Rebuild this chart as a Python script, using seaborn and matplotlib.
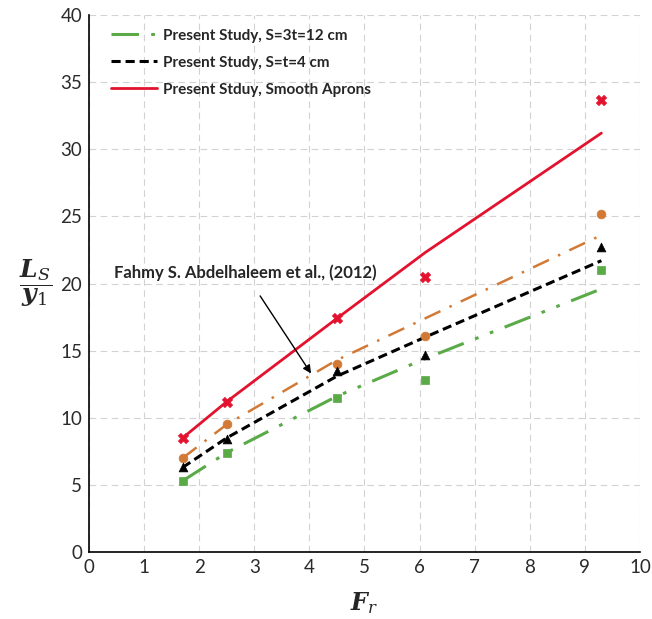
import numpy as np
import pandas as pd
import matplotlib
matplotlib.use("Agg")
import matplotlib.pyplot as plt
import seaborn as sns

# ---- data ----
fr = [1.7, 2.5, 4.5, 6.1, 9.3]

smooth_pts = [8.5, 11.2, 17.4, 20.5, 33.7]
smooth_fit = [8.5, 11.2, 17.4, 22.3, 31.2]

s4_pts = [6.3, 8.4, 13.5, 14.7, 22.7]
s4_fit = [6.3, 8.5, 13.1, 16.0, 21.7]

s12_pts = [5.3, 7.4, 11.5, 12.8, 21.0]
s12_fit = [5.3, 7.4, 11.6, 14.4, 19.6]

fahmy_pts = [7.0, 9.5, 14.0, 16.1, 25.2]
fahmy_fit = [7.0, 9.5, 14.3, 17.4, 23.6]

legend_labels = ["Present Study, S=3t=12 cm", "Present Study, S=t=4 cm",
                 "Present Stduy, Smooth Aprons"]
annot_text = "Fahmy S. Abdelhaleem et al., (2012)"

xticks = list(range(0, 11))
yticks = list(range(0, 41, 5))

# ---- style ----
sns.set_style("white")
plt.rcParams['font.family'] = ['Lato', 'DejaVu Sans']
plt.rcParams['mathtext.fontset'] = 'dejavuserif'

fig = plt.figure(figsize=(6.52, 6.19), dpi=100)
ax = fig.add_axes([0.1365, 0.1082, 0.845, 0.8676])

red = "#e3122e"
orange = "#d27a35"
green = "#5aaa48"
black = "#000000"

# fitted lines
sns.lineplot(x=fr, y=s12_fit, ax=ax, color=green, lw=2.2,
             linestyle=(0, (9, 4, 1.2, 4, 1.2, 4)), label=legend_labels[0])
sns.lineplot(x=fr, y=s4_fit, ax=ax, color=black, lw=2.2,
             linestyle=(0, (3, 1.6)), label=legend_labels[1])
sns.lineplot(x=fr, y=smooth_fit, ax=ax, color=red, lw=2.0,
             linestyle="-", label=legend_labels[2])
sns.lineplot(x=fr, y=fahmy_fit, ax=ax, color=orange, lw=1.8,
             linestyle=(0, (7, 4, 1, 4)), label="_nolegend_")

# markers
sns.scatterplot(x=fr, y=smooth_pts, ax=ax, color=red, marker="X", s=55,
                edgecolor=red, linewidth=0.5, zorder=5, legend=False)
sns.scatterplot(x=fr, y=fahmy_pts, ax=ax, color=orange, marker="o", s=40,
                edgecolor=orange, zorder=5, legend=False)
sns.scatterplot(x=fr, y=s4_pts, ax=ax, color=black, marker="^", s=40,
                edgecolor=black, zorder=5, legend=False)
sns.scatterplot(x=fr, y=s12_pts, ax=ax, color=green, marker="s", s=40,
                edgecolor=green, zorder=5, legend=False)

ax.set_xlim(0, 10)
ax.set_ylim(0, 40)
ax.set_xticks(xticks)
ax.set_yticks(yticks)
ax.tick_params(axis="both", labelsize=13.5, length=0, pad=5)
for lab in ax.get_xticklabels() + ax.get_yticklabels():
    lab.set_color("#2a2a2a")

ax.grid(True, color="#d2d2d2", linestyle=(0, (6, 4)), lw=0.8)
ax.set_axisbelow(True)
for s in ["top", "right"]:
    ax.spines[s].set_visible(False)
for s in ["left", "bottom"]:
    ax.spines[s].set_color("black")
    ax.spines[s].set_linewidth(1.2)

ax.set_xlabel(r"$\mathbfit{F}_{\mathit{r}}$", fontsize=17, labelpad=10)
ax.set_ylabel(r"$\dfrac{\mathbfit{L}_{\mathit{S}}}{\mathbfit{y}_{1}}$",
              fontsize=18, rotation=0, labelpad=18, va="center")

leg = ax.legend(loc="upper left", bbox_to_anchor=(0.015, 1.0), frameon=False,
                prop={"weight": "bold", "size": 11}, handlelength=3.0,
                handletextpad=0.4, labelspacing=0.85)

ax.annotate(annot_text, xy=(4.03, 13.3), xytext=(2.83, 20.8),
            ha="center", va="center", fontsize=12, fontweight="bold",
            arrowprops=dict(arrowstyle="-|>", color="black", lw=1.0,
                            shrinkA=10, shrinkB=0, mutation_scale=12))

fig.savefig("out.png", dpi=100)
